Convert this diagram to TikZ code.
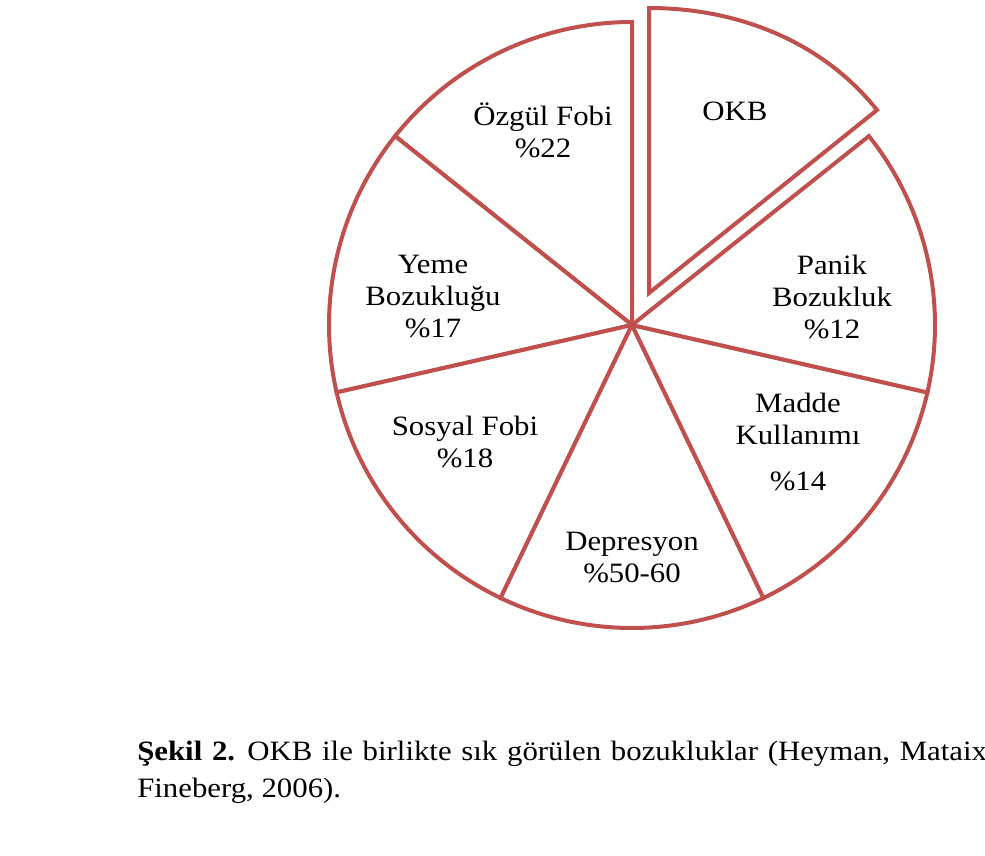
\documentclass[tikz,border=0pt]{standalone}
\usepackage{fontspec}
\setmainfont{Liberation Serif}
\newfontfamily\chartfont[FakeStretch=1.1]{Liberation Serif}
\definecolor{piered}{HTML}{C0504D}
\begin{document}
\begin{tikzpicture}[x=0.75pt,y=0.75pt,
  pieline/.style={draw=piered, line width=3pt, line join=miter, fill=white},
  lbl/.style={font=\chartfont\fontsize{21pt}{24pt}\selectfont, align=center, anchor=base, inner sep=0pt},
  captext/.style={font=\chartfont\fontsize{21pt}{24pt}\selectfont, anchor=base west, inner sep=0pt}]
\useasboundingbox (0,0) rectangle (985,-856);
\fill[white] (0,0) rectangle (985,-856);
\coordinate (C) at (632,-325);
% main slices
\foreach \a/\b in {90/141.43, 141.43/192.86, 192.86/244.29, 244.29/295.71, 295.71/347.14, 347.14/398.57}
  \draw[pieline] (C) -- ++(\a:303) arc[start angle=\a, end angle=\b, radius=227.25pt] -- cycle;
% exploded OKB slice
\coordinate (A) at (649,-293);
\coordinate (T) at (649,-8);
\coordinate (P) at (877,-110);
\draw[pieline] (A) -- (T) .. controls (737,-8) and (822,-41) .. (P) -- cycle;
% labels (anchored at the baseline of the last line)
\node[lbl] (okb) at (735,-120) {OKB};
\node[lbl] (ozgul) at (543,-157) {Özgül Fobi\\\%22};
\node[lbl] (yeme) at (433,-337) {Yeme\\Bozukluğu\\\%17};
\node[lbl] (panik) at (832,-338) {Panik\\Bozukluk\\\%12};
\node[lbl] (madde) at (798,-490) {Madde\\Kullanımı\\[10pt]\%14};
\node[lbl] (sosyal) at (465,-467) {Sosyal Fobi\\\%18};
\node[lbl] (depr) at (632,-582) {Depresyon\\\%50-60};
% caption (first line runs past the right edge, as in the reference)
\node[captext] (cap1) at (137,-760) {\spaceskip=7.3pt\textbf{Şekil 2.} OKB ile birlikte sık görülen bozukluklar (Heyman, Mataix};
\node[captext] (cap2) at (137,-797) {Fineberg, 2006).};
\end{tikzpicture}
\end{document}
